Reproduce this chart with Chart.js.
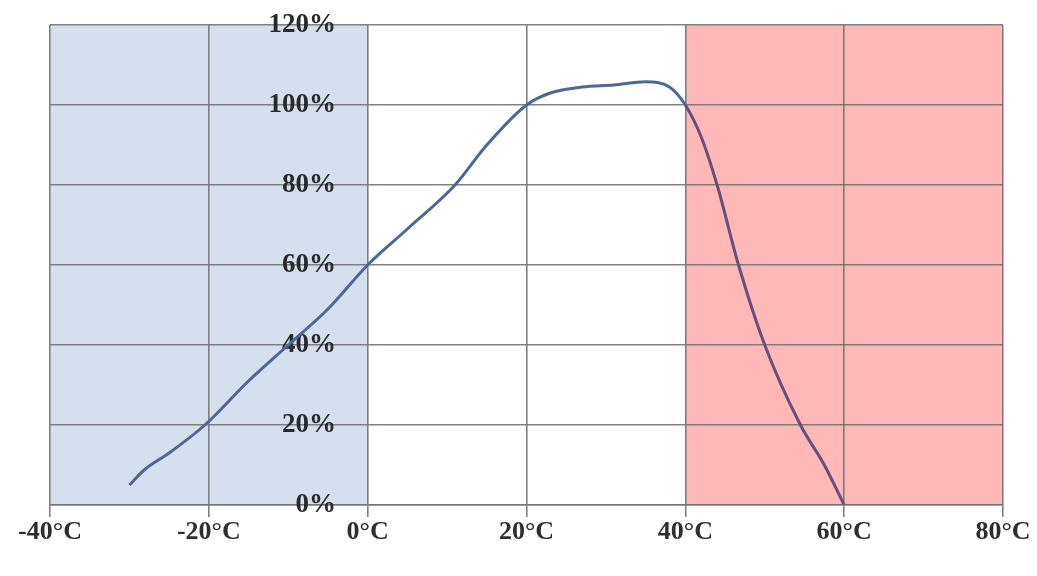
<!DOCTYPE html>
<html>
<head>
<meta charset="utf-8">
<script src="https://cdn.jsdelivr.net/npm/chart.js@4"></script>
<style>
html,body{margin:0;padding:0;background:#fff;}
#wrap{width:1037px;height:576px;position:relative;}
</style>
</head>
<body>
<div id="wrap"><canvas id="c"></canvas></div>
<script>
// Temperature (°C) and relative value (%)
const temps  = [-30, -28, -25, -20.5, -15, -10, -5, 0, 5, 11, 15, 20, 23, 27, 31, 35, 38, 40, 42, 44, 46.7, 50, 54.5, 57.5, 60];
const values = [5, 9, 13, 20, 31, 40, 49, 60, 69, 80, 90, 100, 103, 104.5, 105, 105.8, 104.5, 100, 92, 80, 60, 40, 20, 10, 0];
const xTicks = [-40, -20, 0, 20, 40, 60, 80];
const yTicks = [0, 20, 40, 60, 80, 100, 120];
const coldZone = [-40, 0];
const hotZone = [40, 80];
const yLabelAnchor = -4; // y tick labels end a little left of the 0°C line

const points = temps.map((t, i) => ({x: t, y: values[i]}));

const zonePlugin = {
  id: 'zones',
  beforeDraw(chart) {
    const {ctx, chartArea, scales} = chart;
    const x = scales.x;
    const draw = (zone, color) => {
      const a = x.getPixelForValue(zone[0]);
      const b = x.getPixelForValue(zone[1]);
      ctx.save();
      ctx.fillStyle = color;
      ctx.fillRect(a, chartArea.top, b - a, chartArea.bottom - chartArea.top);
      ctx.restore();
    };
    draw(coldZone, 'rgb(213,223,238)');
    draw(hotZone, 'rgb(255,184,184)');
  }
};

const gridColor = 'rgba(115,115,115,0.9)';

new Chart(document.getElementById('c'), {
  type: 'line',
  data: {
    datasets: [{
      data: points,
      borderColor: 'rgb(76,104,150)',
      borderWidth: 3,
      pointRadius: 0,
      cubicInterpolationMode: 'monotone',
      fill: false,
      segment: {
        borderColor: ctx => (ctx.p0.parsed.x >= hotZone[0] ? 'rgb(105,78,125)' : undefined)
      }
    }]
  },
  options: {
    responsive: true,
    maintainAspectRatio: false,
    animation: false,
    layout: { padding: { left: 50, right: 34, top: 25, bottom: 0 } },
    plugins: { legend: { display: false }, tooltip: { enabled: false } },
    scales: {
      x: {
        type: 'linear',
        min: xTicks[0],
        max: xTicks[xTicks.length - 1],
        afterBuildTicks: s => { s.ticks = xTicks.map(v => ({value: v})); },
        afterFit: s => { s.height = 71; },
        grid: { color: gridColor, lineWidth: 1.6, tickLength: 12 },
        border: { color: gridColor, width: 1.6 },
        ticks: {
          padding: 0,
          color: '#2e2e2e',
          font: { family: 'Liberation Serif', size: 26, weight: 'bold' },
          maxRotation: 0,
          callback: v => v + '°C'
        }
      },
      y: {
        type: 'linear',
        position: { x: yLabelAnchor },
        min: yTicks[0],
        max: yTicks[yTicks.length - 1],
        afterBuildTicks: s => { s.ticks = yTicks.map(v => ({value: v})); },
        grid: { color: gridColor, lineWidth: 1.6, drawTicks: false },
        border: { display: false },
        ticks: {
          padding: 0,
          color: '#2a2a2a',
          font: { family: 'Liberation Serif', size: 27, weight: 'bold' },
          callback: v => v + '%'
        }
      }
    }
  },
  plugins: [zonePlugin]
});
</script>
</body>
</html>
